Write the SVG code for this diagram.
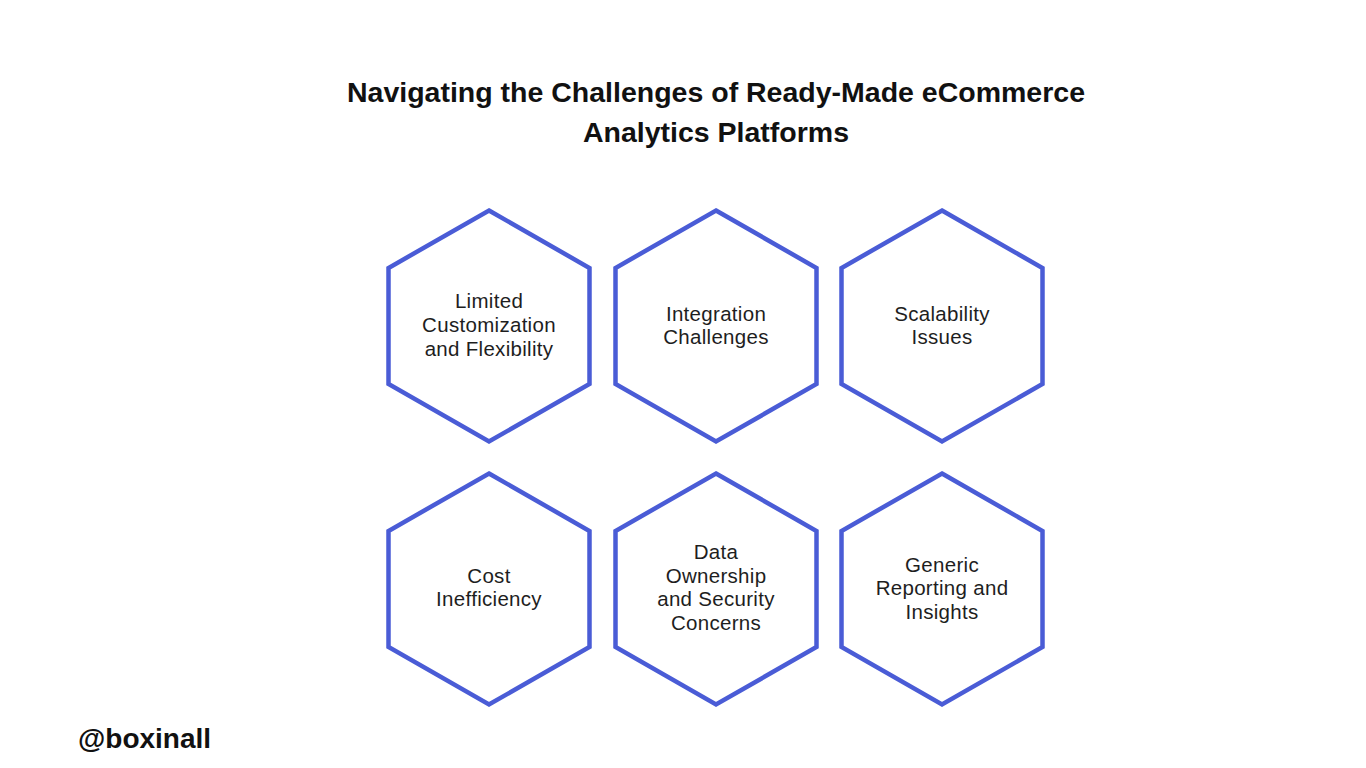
<svg xmlns="http://www.w3.org/2000/svg" width="1366" height="768" viewBox="0 0 1366 768">
<style>
.hex{fill:#fff;stroke:#4A5CD6;stroke-width:4.5;stroke-linejoin:miter}
.lbl{font-family:"Liberation Sans",Arial,sans-serif;font-size:20.5px;letter-spacing:0.3px;fill:#1e1e1e;text-anchor:middle}
.title{font-family:"Liberation Sans",Arial,sans-serif;font-weight:bold;font-size:28.5px;fill:#111;text-anchor:middle}
.wm{font-family:"Liberation Sans",Arial,sans-serif;font-weight:bold;font-size:28px;fill:#111}
</style>
<defs>
<polygon id="hx" points="0,-115.5 100.5,-58 100.5,58 0,115.5 -100.5,58 -100.5,-58"/>
</defs>
<rect width="1366" height="768" fill="#fff"/>
<text class="title" x="716" y="102">Navigating the Challenges of Ready-Made eCommerce</text>
<text class="title" x="716" y="142">Analytics Platforms</text>
<g id="connectors"></g>
<g id="n1"><use href="#hx" class="hex" x="489" y="326"/><text class="lbl" x="489" y="308">Limited</text><text class="lbl" x="489" y="332">Customization</text><text class="lbl" x="489" y="356">and Flexibility</text></g>
<g id="n2"><use href="#hx" class="hex" x="716" y="326"/><text class="lbl" x="716" y="321">Integration</text><text class="lbl" x="716" y="344">Challenges</text></g>
<g id="n3"><use href="#hx" class="hex" x="942" y="326"/><text class="lbl" x="942" y="321">Scalability</text><text class="lbl" x="942" y="344">Issues</text></g>
<g id="n4"><use href="#hx" class="hex" x="489" y="589"/><text class="lbl" x="489" y="583">Cost</text><text class="lbl" x="489" y="606">Inefficiency</text></g>
<g id="n5"><use href="#hx" class="hex" x="716" y="589"/><text class="lbl" x="716" y="559">Data</text><text class="lbl" x="716" y="583">Ownership</text><text class="lbl" x="716" y="606">and Security</text><text class="lbl" x="716" y="630">Concerns</text></g>
<g id="n6"><use href="#hx" class="hex" x="942" y="589"/><text class="lbl" x="942" y="572">Generic</text><text class="lbl" x="942" y="595">Reporting and</text><text class="lbl" x="942" y="619">Insights</text></g>
<text class="wm" x="78" y="748">@boxinall</text>
</svg>
